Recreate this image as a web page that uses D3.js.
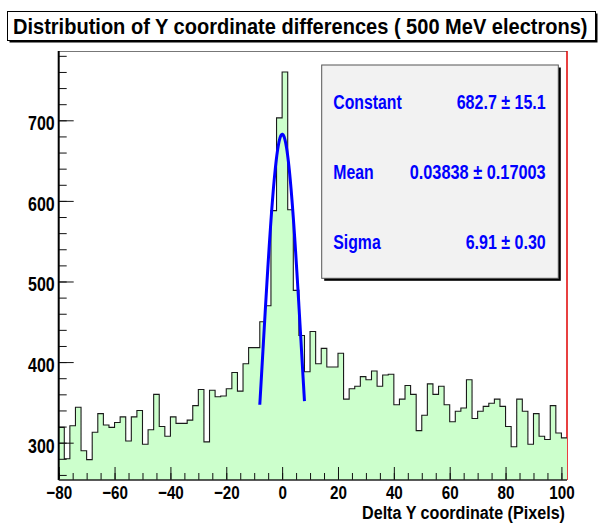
<!DOCTYPE html>
<html>
<head>
<meta charset="utf-8">
<script src="https://cdn.jsdelivr.net/npm/d3@7"></script>
<style>
  body { margin: 0; background: #fff; }
  svg { display: block; }
  text { font-family: "Liberation Sans", Arial, Helvetica, sans-serif; font-weight: bold; }
</style>
</head>
<body>
<svg id="chart" width="602" height="524"></svg>
<script>
// Histogram: 2-pixel bins starting at -80
const binStart = -80;
const binWidth = 2;
const counts = [
  319, 280, 321, 344, 290, 279, 313, 336, 322, 319,
  325, 332, 302, 332, 340, 298, 316, 360, 320, 308,
  332, 324, 324, 328, 346, 366, 301, 365, 357, 358,
  367, 387, 364, 398, 418, 418, 450, 470, 588, 703,
  760, 589, 489, 433, 388, 438, 398, 417, 394, 394,
  411, 354, 367, 370, 382, 378, 389, 370, 384, 385,
  347, 354, 371, 360, 315, 334, 373, 360, 370, 347,
  326, 339, 343, 378, 330, 339, 345, 349, 354, 345,
  320, 295, 354, 339, 298, 336, 308, 304, 346, 312,
  306
];

// Axis ticks
const xMajorTicks = [-80, -60, -40, -20, 0, 20, 40, 60, 80, 100];
const yMajorTicks = [300, 400, 500, 600, 700];

// Gaussian fit results
const statNames  = ["Constant", "Mean", "Sigma"];
const statValues = ["682.7", "0.03838", "6.91"];
const statErrors = ["15.1", "0.17003", "0.30"];
const fitConstant = 682.7;
const fitMean = 0.03838;
const fitSigma = 6.91;
const fitRange = [-8, 8];

const titleText = "Distribution of Y coordinate differences ( 500 MeV electrons)";
const xTitle = "Delta Y coordinate (Pixels)";

const svg = d3.select("#chart");
const frame = { left: 58.7, right: 567, top: 51, bottom: 480 };

const x = d3.scaleLinear()
  .domain([binStart, binStart + binWidth * counts.length])
  .range([frame.left, frame.right]);
const y = d3.scaleLinear()
  .domain([253.7, 786])
  .range([frame.bottom, frame.top]);

// narrow the glyphs horizontally (condensed Helvetica look)
function condense(sel, k) {
  sel.each(function () {
    const w = this.getComputedTextLength();
    d3.select(this).attr("textLength", w * k).attr("lengthAdjust", "spacingAndGlyphs");
  });
}

// ---- title box ----
svg.append("rect").attr("x", 9.5).attr("y", 13.5).attr("width", 588).attr("height", 29).attr("fill", "#000");
svg.append("rect").attr("x", 7.5).attr("y", 11.5).attr("width", 588).attr("height", 29)
  .attr("fill", "#fff").attr("stroke", "#000").attr("stroke-width", 1);
const title = svg.append("text")
  .attr("font-size", 21.5).attr("fill", "#000")
  .text(titleText);
const titleScale = 575 / title.node().getComputedTextLength();
title.attr("transform", `translate(13,33.5) scale(${titleScale},1)`);

// ---- frame ----
svg.append("line").attr("x1", frame.left).attr("x2", frame.right)
  .attr("y1", frame.top + 0.5).attr("y2", frame.top + 0.5)
  .attr("stroke", "#777").attr("stroke-width", 1);
svg.append("line").attr("x1", frame.right).attr("x2", frame.right)
  .attr("y1", frame.top).attr("y2", frame.bottom)
  .attr("stroke", "#e00000").attr("stroke-width", 1.5);

// ---- histogram ----
const steps = [];
counts.forEach((c, i) => {
  const lo = binStart + i * binWidth;
  steps.push([lo, c], [lo + binWidth, c]);
});
const area = d3.area()
  .x(d => x(d[0]))
  .y0(y.range()[0])
  .y1(d => y(d[1]));
const outline = d3.line()
  .x(d => x(d[0]))
  .y(d => y(d[1]));
svg.append("path").attr("d", area(steps)).attr("fill", "#ccffcc");
svg.append("path").attr("d", outline(steps))
  .attr("fill", "none").attr("stroke", "#1a1a1a").attr("stroke-width", 1.1);

// ---- gaussian fit ----
const gauss = v => fitConstant * Math.exp(-0.5 * Math.pow((v - fitMean) / fitSigma, 2));
const fitPts = d3.range(0, 101).map(i => {
  const v = fitRange[0] + (fitRange[1] - fitRange[0]) * i / 100;
  return [v, gauss(v)];
});
svg.append("path").attr("d", outline(fitPts))
  .attr("fill", "none").attr("stroke", "#0000ff").attr("stroke-width", 3)
  .attr("stroke-linejoin", "round");

// ---- axes ----
const yAxisMinor = d3.axisLeft(y).tickValues(d3.range(260, 786, 20)).tickSize(-8).tickFormat("");
const yAxis = d3.axisLeft(y).tickValues(yMajorTicks).tickSize(-15).tickPadding(4).tickFormat(d3.format("d"));
const xAxisMinor = d3.axisBottom(x).tickValues(d3.range(-80, 101, 5)).tickSize(-7).tickFormat("");
const xAxis = d3.axisBottom(x).tickValues(xMajorTicks).tickSize(-13).tickPadding(5).tickFormat(d3.format("d"));

const gy2 = svg.append("g").attr("transform", `translate(${frame.left},0)`).call(yAxisMinor);
const gy = svg.append("g").attr("transform", `translate(${frame.left},0)`).call(yAxis);
const gx2 = svg.append("g").attr("transform", `translate(0,${frame.bottom})`).call(xAxisMinor);
const gx = svg.append("g").attr("transform", `translate(0,${frame.bottom})`).call(xAxis);

[gy, gy2, gx, gx2].forEach(g => {
  g.select(".domain").remove();
  g.selectAll(".tick line").attr("stroke", "#111").attr("stroke-width", 1);
});
gy.selectAll(".tick text")
  .attr("font-size", 20).attr("fill", "#000").attr("dy", null).attr("y", 9.5)
  .call(condense, 0.8);
gx.selectAll(".tick text")
  .attr("font-size", 19).attr("fill", "#000").attr("dy", null).attr("y", 19)
  .call(condense, 0.8);

// axis lines
svg.append("line").attr("x1", frame.left).attr("x2", frame.left)
  .attr("y1", frame.top).attr("y2", frame.bottom)
  .attr("stroke", "#000").attr("stroke-width", 2);
svg.append("line").attr("x1", frame.left).attr("x2", frame.right)
  .attr("y1", frame.bottom).attr("y2", frame.bottom)
  .attr("stroke", "#222").attr("stroke-width", 1.5);

// x axis title
svg.append("text").attr("x", 565).attr("y", 518.5)
  .attr("text-anchor", "end").attr("font-size", 18).attr("fill", "#000")
  .attr("textLength", 203).attr("lengthAdjust", "spacingAndGlyphs")
  .text(xTitle);

// ---- fit statistics box ----
const box = { x: 321.7, y: 65, w: 236.6, h: 213.3 };
svg.append("rect").attr("x", box.x + 2.5).attr("y", box.y + 2.5)
  .attr("width", box.w).attr("height", box.h).attr("fill", "#000");
svg.append("rect").attr("x", box.x).attr("y", box.y)
  .attr("width", box.w).attr("height", box.h)
  .attr("fill", "#f2f2f2").attr("stroke", "#555").attr("stroke-width", 1);

const rowBase = [109.3, 179.3, 249];
const valueWidths = [89, 136, 80];
statNames.forEach((name, i) => {
  svg.append("text").attr("x", 333.3).attr("y", rowBase[i])
    .attr("font-size", 19.5).attr("fill", "#0000ff").text(name)
    .call(condense, 0.81);
  svg.append("text").attr("x", 545.7).attr("y", rowBase[i])
    .attr("text-anchor", "end").attr("font-size", 19.5).attr("fill", "#0000ff")
    .attr("textLength", valueWidths[i]).attr("lengthAdjust", "spacingAndGlyphs")
    .text(statValues[i] + " \u00b1 " + statErrors[i]);
});
</script>
</body>
</html>
